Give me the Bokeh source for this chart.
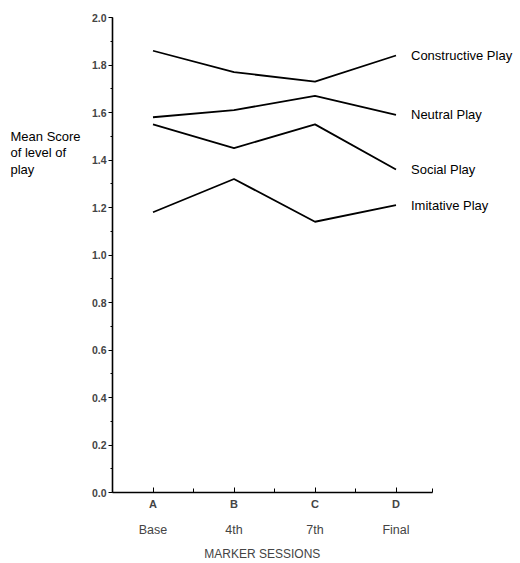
from bokeh.plotting import figure
from bokeh.models import (Range1d, FixedTicker, SingleIntervalTicker, LinearAxis,
                          ColumnDataSource, PrintfTickFormatter)
from bokeh.core.properties import value
from bokeh.layouts import row
from bokeh.embed import file_html
from bokeh.resources import INLINE

# ---- data ----
sessions = [1, 2, 3, 4]
session_letters = ["A", "B", "C", "D"]
session_names = ["Base", "4th", "7th", "Final"]
series_names = ["Constructive Play", "Neutral Play", "Social Play", "Imitative Play"]
constructive = [1.86, 1.77, 1.73, 1.84]
neutral = [1.58, 1.61, 1.67, 1.59]
social = [1.55, 1.45, 1.55, 1.36]
imitative = [1.18, 1.32, 1.14, 1.21]
y_title_lines = ["Mean Score", "of level of", "play"]
x_title = "MARKER SESSIONS"

FONT = "Liberation Sans"
TOP, BOTTOM = 17, 71
PX_PER_UNIT = 81.0
FRAME_W = 408
AXIS_BOUNDS = (0.5, 4.45)
X_TITLE_POS = 2.35

y_range = Range1d(0, 2.0)

# ---- main figure ----
p = figure(width=438, height=563, output_backend="svg", toolbar_location=None,
           x_range=Range1d(0.5, 0.5 + FRAME_W / PX_PER_UNIT), y_range=y_range,
           min_border_left=30, min_border_right=0, min_border_top=TOP,
           min_border_bottom=BOTTOM)
p.outline_line_color = None
p.xgrid.grid_line_color = None
p.ygrid.grid_line_color = None

all_series = [constructive, neutral, social, imitative]
for s in all_series:
    p.line(sessions, s, line_color="black", line_width=1.8)

# y axis
ya = p.yaxis[0]
ya.ticker = SingleIntervalTicker(interval=0.2, num_minor_ticks=2)
ya.formatter = PrintfTickFormatter(format="%.1f")
ya.axis_line_width = 1.6
ya.major_tick_out = 4
ya.major_tick_in = 0
ya.minor_tick_out = 2
ya.minor_tick_in = 0
ya.major_label_text_font = FONT
ya.major_label_text_font_size = "10.5px"
ya.major_label_text_font_style = "bold"
ya.major_label_standoff = 2

# x axis (letters)
xa = p.xaxis[0]
xa.bounds = AXIS_BOUNDS
xa.ticker = FixedTicker(ticks=sessions, minor_ticks=[1.5, 2.5, 3.5, AXIS_BOUNDS[1]])
xa.major_label_overrides = {s: l for s, l in zip(sessions, session_letters)}
xa.axis_line_width = 1.6
xa.major_tick_in = 5
xa.major_tick_out = 0
xa.minor_tick_in = 4
xa.minor_tick_out = 0
xa.major_label_text_font = FONT
xa.major_label_text_font_size = "11px"
xa.major_label_text_font_style = "bold"
xa.major_label_standoff = 5

# second x axis (session names)
xa2 = LinearAxis(ticker=FixedTicker(ticks=sessions),
                 major_label_overrides={s: n for s, n in zip(sessions, session_names)})
xa2.bounds = AXIS_BOUNDS
xa2.axis_line_color = None
xa2.major_tick_line_color = None
xa2.minor_tick_line_color = None
xa2.major_label_text_font = FONT
xa2.major_label_text_font_size = "12.5px"
xa2.major_label_standoff = 4
p.add_layout(xa2, "below")

# third x axis (title)
xa3 = LinearAxis(ticker=FixedTicker(ticks=[X_TITLE_POS]),
                 major_label_overrides={X_TITLE_POS: x_title})
xa3.axis_line_color = None
xa3.major_tick_line_color = None
xa3.minor_tick_line_color = None
xa3.major_label_text_font = FONT
xa3.major_label_text_font_size = "12px"
xa3.major_label_standoff = 1
p.add_layout(xa3, "below")

# series labels at the end of each line
src = ColumnDataSource(dict(x=[sessions[-1]] * 4, y=[s[-1] for s in all_series],
                            name=series_names))
p.text(x="x", y="y", text="name", source=src, x_offset=15,
       text_baseline="middle", text_align="left", text_font=value(FONT),
       text_font_size="13px", text_color="black")

# ---- left figure: horizontal y title ----
left = figure(width=82, height=563, output_backend="svg", toolbar_location=None,
              x_range=Range1d(0, 82), y_range=y_range,
              x_axis_location=None, y_axis_location=None,
              min_border_left=0, min_border_right=0, min_border_top=TOP,
              min_border_bottom=BOTTOM)
left.outline_line_color = None
left.xgrid.grid_line_color = None
left.ygrid.grid_line_color = None
tsrc = ColumnDataSource(dict(x=[0] * 3, y=[1.50, 1.43, 1.36], t=y_title_lines))
left.text(x="x", y="y", text="t", source=tsrc, x_offset=10,
          text_baseline="middle", text_align="left", text_font=value(FONT),
          text_font_size="13px", text_color="black")

layout = row(left, p, spacing=0)
open("out.html", "w").write(file_html(layout, INLINE))
